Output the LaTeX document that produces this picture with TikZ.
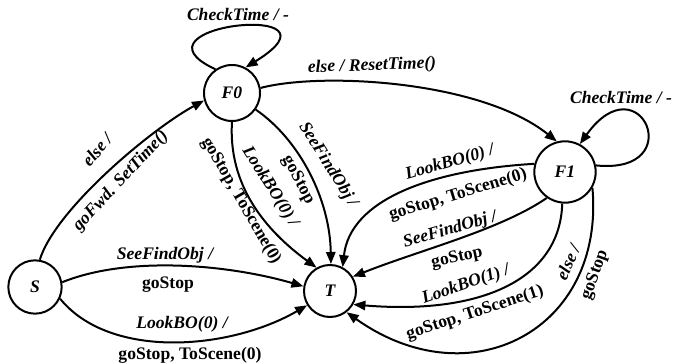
\documentclass[tikz,border=0pt]{standalone}
\usepackage{fontspec}
\setmainfont{Liberation Serif}
\usetikzlibrary{arrows.meta}
\begin{document}
\begin{tikzpicture}[x=0.75pt,y=-0.75pt,
 state/.style={circle,draw,line width=1.5pt,inner sep=0pt,font=\fontsize{13.2}{15}\selectfont\bfseries\itshape},
 edge/.style={line width=1.5pt,-{Triangle[length=9pt,width=7pt]}},
 inl/.style={font=\fontsize{13.2}{15}\selectfont\bfseries\itshape,inner sep=0pt},
 outl/.style={font=\fontsize{13.2}{15}\selectfont\bfseries,inner sep=0pt}]
\useasboundingbox (0,0) rectangle (673,363);

\node[state,minimum size=40pt] (S) at (35,287) {S};
\node[state,minimum size=39pt] (T) at (330,291) {T};
\node[state,minimum size=42pt] (F0) at (232,93) {F0};
\node[state,minimum size=46pt] (F1) at (565,172) {F1};

% loops
\draw[edge] (F0.125) .. controls (120,25) and (355,0) .. (F0.62);
\draw[edge] (F1.12) .. controls (690,175) and (640,60) .. (F1.62);
% S -> F0, F0 -> F1
\draw[edge] (S.80) .. controls (55,210) and (150,130) .. (F0.195);
\draw[edge] (F0.10) .. controls (320,72) and (480,80) .. (F1.105);
% S -> T
\draw[edge] (S.10) .. controls (130,255) and (230,265) .. (T.170);
\draw[edge] (S.-25) .. controls (110,360) and (230,350) .. (T.-148);
% F0 -> T
\draw[edge] (F0.-90) .. controls (228,185) and (265,230) .. (T.120);
\draw[edge] (F0.-35) .. controls (300,140) and (330,200) .. (T.88);
% F1 -> T
\draw[edge] (F1.165) .. controls (430,170) and (350,200) .. (T.62);
\draw[edge] (F1.-125) .. controls (500,230) and (420,250) .. (T.32);
\draw[edge] (F1.-95) .. controls (560,280) and (480,315) .. (T.-30);
\draw[edge] (F1.-30) .. controls (605,330) and (470,400) .. (T.-52);

% labels
\node[inl] (l1) at (238,14) {CheckTime / -};
\node[inl] (l2) at (621,97) {CheckTime / -};
\node[inl,rotate=2] (l3) at (372,66) {else / ResetTime()};
\node[inl,rotate=50] (l4) at (97,150) {else /};
\node[inl,rotate=47] (l5) at (121,181) {goFwd. SetTime()};
\node[inl] (l6) at (165,255) {SeeFindObj /};
\node[outl] (l7) at (168,285) {goStop};
\node[inl] (l8) at (182,324) {LookBO(0) /};
\node[outl] (l9) at (190,355) {goStop, ToScene(0)};
\node[outl,rotate=-60] (l10) at (241,201) {goStop, ToScene(0)};
\node[inl,rotate=-58] (l11) at (270,187) {LookBO(0) /};
\node[outl,rotate=-62] (l12) at (298,180) {goStop};
\node[inl,rotate=-58] (l13) at (328,165) {SeeFindObj /};
\node[inl,rotate=16] (l14) at (450,163) {LookBO(0) /};
\node[outl,rotate=17] (l15) at (458,195) {goStop, ToScene(0)};
\node[inl,rotate=16] (l16) at (450,230) {SeeFindObj /};
\node[outl,rotate=12] (l17) at (457,258) {goStop};
\node[inl,rotate=19] (l18) at (466,285) {LookBO(1) /};
\node[outl,rotate=18] (l19) at (475,313) {goStop, ToScene(1)};
\node[inl,rotate=66] (l20) at (568,262) {else /};
\node[outl,rotate=70] (l21) at (595,275) {goStop};
\end{tikzpicture}
\end{document}
